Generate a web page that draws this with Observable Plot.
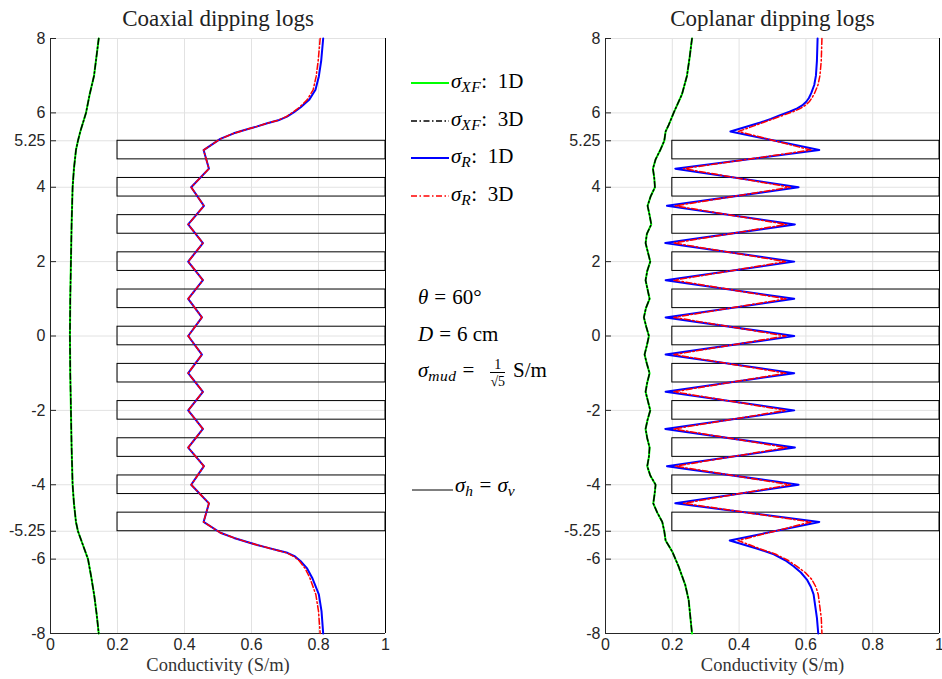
<!DOCTYPE html>
<html><head><meta charset="utf-8">
<script src="https://cdn.jsdelivr.net/npm/d3@7"></script>
<script src="https://cdn.jsdelivr.net/npm/@observablehq/plot@0.6"></script>
<style>
body{margin:0;background:#fff;}
#wrap{position:relative;width:942px;height:679px;overflow:hidden;background:#fff;}
.panel{position:absolute;top:0;}
.panel svg{background:transparent !important;}
.ov{position:absolute;font-family:"Liberation Serif","DejaVu Serif",serif;font-size:21px;color:#000;white-space:nowrap;line-height:22px;}
.ov i{font-style:italic;}
.ov .sb{font-size:15.5px;font-style:italic;position:relative;top:4px;letter-spacing:0.5px;}
.ov .eq{margin:0 6px;}
.sw{position:absolute;}
.frac{display:inline-block;vertical-align:-9px;text-align:center;font-size:14px;line-height:14px;margin:0 8px 0 10px;}
.frac span{display:block;}
.frac .den{border-top:1px solid #000;padding-top:2px;}
</style></head><body><div id="wrap"></div>
<script>
// ---------- data ----------
const yTicks = [8, 6, 5.25, 4, 2, 0, -2, -4, -5.25, -6, -8];
const xTicks = [0, 0.2, 0.4, 0.6, 0.8, 1];
const layerTops    = [5.25, 4.25, 3.25, 2.25, 1.25, 0.25, -0.75, -1.75, -2.75, -3.75, -4.75];
const layerBottoms = [4.75, 3.75, 2.75, 1.75, 0.75, -0.25, -1.25, -2.25, -3.25, -4.25, -5.25];
const layerSigmaLow = 0.2, layerSigmaHigh = 1;

// Coaxial
const coaxXFDepth = [8,7.5,7,6.5,6,5.5,5.25,5,4.5,4,3,2,1,0,-1,-2,-3,-4,-4.5,-5,-5.25,-5.5,-6,-6.5,-7,-7.5,-8];
const coaxXF1D = [0.144,0.137,0.130,0.117,0.106,0.089,0.082,0.076,0.070,0.066,0.063,0.061,0.059,0.058,0.059,0.061,0.063,0.066,0.070,0.076,0.082,0.092,0.112,0.122,0.131,0.138,0.144];
const coaxXF3D = [0.144,0.137,0.130,0.117,0.106,0.089,0.082,0.076,0.070,0.066,0.063,0.061,0.059,0.058,0.059,0.061,0.063,0.066,0.070,0.076,0.082,0.092,0.112,0.122,0.131,0.138,0.144];
const coaxRDepth = [8,7.4,6.98,6.62,6.35,6.15,6.02,5.9,5.8,5.72,5.63,5.56,5.45,5.3,5,4.5,4,3.5,3,2.5,2,1.5,1,0.5,0,-0.5,-1,-1.5,-2,-2.5,-3,-3.5,-4,-4.5,-5,-5.29,-5.43,-5.54,-5.62,-5.69,-5.77,-5.83,-5.93,-6.05,-6.25,-6.5,-6.95,-7.4,-8];
const coaxR1D = [0.814,0.808,0.801,0.791,0.772,0.747,0.727,0.706,0.680,0.647,0.615,0.587,0.547,0.507,0.457,0.473,0.420,0.458,0.411,0.455,0.411,0.455,0.411,0.452,0.411,0.452,0.411,0.455,0.411,0.455,0.411,0.458,0.420,0.473,0.457,0.507,0.548,0.587,0.617,0.647,0.680,0.707,0.730,0.746,0.766,0.781,0.801,0.809,0.814];
const coaxR3D = [0.805,0.799,0.793,0.784,0.766,0.743,0.724,0.704,0.679,0.646,0.615,0.587,0.547,0.507,0.457,0.473,0.420,0.458,0.411,0.455,0.411,0.455,0.411,0.452,0.411,0.452,0.411,0.455,0.411,0.455,0.411,0.458,0.420,0.473,0.457,0.507,0.548,0.587,0.617,0.646,0.679,0.705,0.727,0.743,0.760,0.774,0.792,0.800,0.805];

// Coplanar
const copXFDepth = [8,7.5,7,6.5,6,5.67,5.5,5.25,5,4.75,4.5,4.25,4,3.75,3.5,3.25,3,2.75,2.5,2.25,2,1.75,1.5,1.25,1,0.75,0.5,0.25,0,-0.25,-0.5,-0.75,-1,-1.25,-1.5,-1.75,-2,-2.25,-2.5,-2.75,-3,-3.25,-3.5,-3.75,-4,-4.25,-4.5,-4.75,-5,-5.25,-5.5,-5.8,-6.2,-6.7,-7.1,-8];
const copXF1D = [0.259,0.252,0.244,0.229,0.204,0.189,0.180,0.176,0.164,0.150,0.142,0.146,0.148,0.135,0.126,0.132,0.137,0.124,0.120,0.127,0.134,0.125,0.120,0.126,0.132,0.121,0.115,0.122,0.130,0.124,0.117,0.124,0.132,0.125,0.120,0.127,0.134,0.126,0.120,0.125,0.132,0.130,0.125,0.134,0.150,0.147,0.143,0.155,0.170,0.176,0.180,0.200,0.219,0.239,0.249,0.259];
const copXF3D = [0.259,0.252,0.244,0.229,0.204,0.189,0.180,0.176,0.164,0.150,0.142,0.146,0.148,0.135,0.126,0.132,0.137,0.124,0.120,0.127,0.134,0.125,0.120,0.126,0.132,0.121,0.115,0.122,0.130,0.124,0.117,0.124,0.132,0.125,0.120,0.127,0.134,0.126,0.120,0.125,0.132,0.130,0.125,0.134,0.150,0.147,0.143,0.155,0.170,0.176,0.180,0.200,0.219,0.239,0.249,0.259];
const copRDepth = [8,7.4,7,6.75,6.53,6.4,6.3,6.2,6.12,6.03,5.94,5.84,5.74,5.5,5,4.5,4,3.5,3,2.5,2,1.5,1,0.5,0,-0.5,-1,-1.5,-2,-2.5,-3,-3.5,-4,-4.5,-5,-5.5,-5.72,-5.87,-6.03,-6.19,-6.36,-6.55,-6.75,-6.95,-7.58,-8];
const copR1D = [0.635,0.633,0.630,0.625,0.616,0.609,0.601,0.589,0.574,0.551,0.523,0.495,0.464,0.374,0.640,0.209,0.578,0.184,0.567,0.179,0.565,0.180,0.565,0.180,0.565,0.180,0.565,0.180,0.565,0.179,0.567,0.184,0.578,0.209,0.640,0.372,0.455,0.504,0.538,0.563,0.585,0.603,0.615,0.623,0.633,0.637];
const copR3D = [0.648,0.646,0.642,0.636,0.626,0.618,0.610,0.598,0.584,0.561,0.533,0.503,0.472,0.398,0.615,0.234,0.553,0.209,0.542,0.204,0.540,0.205,0.540,0.205,0.540,0.205,0.540,0.205,0.540,0.204,0.542,0.209,0.553,0.234,0.615,0.397,0.462,0.510,0.546,0.572,0.598,0.618,0.630,0.637,0.646,0.648];

// ---------- drawing ----------
const SERIF = "Liberation Serif, DejaVu Serif, serif";
const DASHDOT = "6,2.5,1.5,2.5";
const layers = layerTops.map((t, i) => ({top: t, bottom: layerBottoms[i]}));
const zip = (depth, vals) => depth.map((d, i) => ({depth: d, v: vals[i]}));

function panel({title, width, marginRight, xfDepth, xf1, xf3, rDepth, r1, r3}) {
  const frameW = width - 50 - marginRight;
  return Plot.plot({
    width, height: 679,
    marginLeft: 50, marginRight, marginTop: 38, marginBottom: 46,
    style: {fontFamily: "Liberation Sans, Arial, sans-serif", fontSize: "16px", background: "transparent", color: "#262626", overflow: "visible"},
    x: {domain: [0, 1], ticks: xTicks, tickFormat: d => String(d), tickSize: 0, tickPadding: 5, label: null},
    y: {domain: [-8, 8], ticks: yTicks, tickFormat: d => String(d), tickSize: 0, tickPadding: 5, label: null},
    marks: [
      Plot.ruleX(xTicks.filter(d => d > 0 && d < 1), {stroke: "#e2e2e2"}),
      Plot.ruleY(yTicks, {stroke: "#e2e2e2"}),
      Plot.rect(layers, {x1: layerSigmaLow, x2: layerSigmaHigh, y1: "bottom", y2: "top", stroke: "black", fill: "none", strokeWidth: 1}),
      Plot.ruleX([0], {stroke: "#262626"}),
      Plot.ruleY([-8], {stroke: "#262626"}),
      Plot.ruleX([1], {stroke: "black"}),
      Plot.ruleY(yTicks, {insetRight: frameW - 6, stroke: "#262626"}),
      Plot.line(zip(xfDepth, xf1), {x: "v", y: "depth", stroke: "#00ff00", strokeWidth: 2}),
      Plot.line(zip(xfDepth, xf3), {x: "v", y: "depth", stroke: "black", strokeWidth: 1.5, strokeDasharray: DASHDOT}),
      Plot.line(zip(rDepth, r1), {x: "v", y: "depth", stroke: "#0000ff", strokeWidth: 2}),
      Plot.line(zip(rDepth, r3), {x: "v", y: "depth", stroke: "#ff0000", strokeWidth: 1.5, strokeDasharray: DASHDOT}),
      Plot.text([title], {frameAnchor: "top", lineAnchor: "bottom", dy: -13, fontFamily: SERIF, fontSize: 23, fill: "#222"}),
      Plot.text(["Conductivity (S/m)"], {frameAnchor: "bottom", lineAnchor: "bottom", dy: 37, fontFamily: SERIF, fontSize: 18.5, fill: "#333"})
    ]
  });
}

const wrap = document.getElementById("wrap");
const p1 = panel({title: "Coaxial dipping logs", width: 400, marginRight: 15,
  xfDepth: coaxXFDepth, xf1: coaxXF1D, xf3: coaxXF3D, rDepth: coaxRDepth, r1: coaxR1D, r3: coaxR3D});
const p2 = panel({title: "Coplanar dipping logs", width: 387, marginRight: 3,
  xfDepth: copXFDepth, xf1: copXF1D, xf3: copXF3D, rDepth: copRDepth, r1: copR1D, r3: copR3D});
const d1 = document.createElement("div"); d1.className = "panel"; d1.style.left = "0px"; d1.appendChild(p1); wrap.appendChild(d1);
const d2 = document.createElement("div"); d2.className = "panel"; d2.style.left = "555px"; d2.appendChild(p2); wrap.appendChild(d2);

// ---------- legend & annotations ----------
const legendItems = [
  {color: "#00ff00", dash: null, width: 2, sub: "XF", tag: "1D"},
  {color: "black", dash: DASHDOT, width: 1.5, sub: "XF", tag: "3D"},
  {color: "#0000ff", dash: null, width: 2, sub: "R", tag: "1D"},
  {color: "#ff0000", dash: DASHDOT, width: 1.5, sub: "R", tag: "3D"}
];
const legendY = [83, 121, 158, 196];
function swatch(x, y, w, color, dash, sw) {
  const s = document.createElementNS("http://www.w3.org/2000/svg", "svg");
  s.setAttribute("width", w); s.setAttribute("height", 8);
  s.setAttribute("class", "sw");
  s.style.left = x + "px"; s.style.top = (y - 4) + "px";
  const l = document.createElementNS("http://www.w3.org/2000/svg", "line");
  l.setAttribute("x1", 0); l.setAttribute("x2", w); l.setAttribute("y1", 4); l.setAttribute("y2", 4);
  l.setAttribute("stroke", color); l.setAttribute("stroke-width", sw);
  if (dash) l.setAttribute("stroke-dasharray", dash);
  s.appendChild(l); wrap.appendChild(s);
}
function label(x, baseline, html) {
  const d = document.createElement("div");
  d.className = "ov"; d.style.left = x + "px"; d.style.top = (baseline - 18.1) + "px";
  d.innerHTML = html; wrap.appendChild(d);
}
legendItems.forEach((it, i) => {
  swatch(411, legendY[i], 38, it.color, it.dash, it.width);
  label(451, legendY[i] + 5, `<i>σ</i><span class="sb">${it.sub}</span>: &nbsp;${it.tag}`);
});
label(418, 304, `<i>θ</i><span class="eq">=</span>60°`);
label(418, 341.5, `<i>D</i><span class="eq">=</span>6 cm`);
label(418, 376, `<i>σ</i><span class="sb">mud</span><span class="eq">=</span><span class="frac"><span>1</span><span class="den">√5</span></span>S/m`);
swatch(412, 489.5, 41, "black", null, 1);
label(455, 492, `<i>σ</i><span class="sb">h</span><span class="eq">=</span><i>σ</i><span class="sb">v</span>`);
</script></body></html>
